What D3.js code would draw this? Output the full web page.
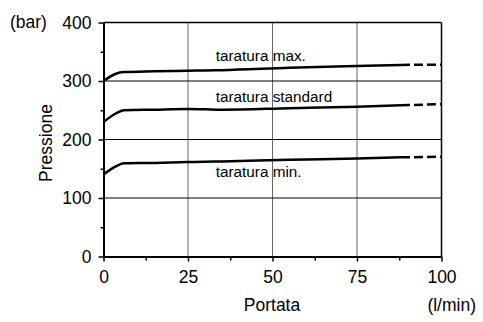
<!DOCTYPE html>
<html><head><meta charset="utf-8">
<script src="https://cdn.jsdelivr.net/npm/d3@7"></script>
<style>
body{margin:0;background:#fff;}
svg{display:block;font-family:"Liberation Sans",Arial,Helvetica,sans-serif;}
</style></head>
<body>
<svg id="c" width="483" height="322"></svg>
<script>
// ---- data ----
const flowSolid = [0, 3.5, 6, 15, 25, 30, 35, 55, 75, 88];
const pMax      = [300, 312, 315.2, 316.5, 317.5, 318, 318.5, 322.5, 325.5, 327.5];
const pStd      = [230, 244, 250, 251, 252, 251.5, 251, 253.5, 256, 258.5];
const pMin      = [140, 153.5, 159.3, 160, 161.5, 162, 162.5, 165.5, 167.5, 169.5];
const flowDash  = [88, 100];
const pMaxDash  = [327.5, 328];
const pStdDash  = [258.5, 260.5];
const pMinDash  = [169.5, 170.5];
const xTicks = [0, 25, 50, 75, 100];
const xMinor = [12.5, 37.5, 62.5, 87.5];
const yTicks = [0, 100, 200, 300, 400];
const yMinor = [50, 150, 250, 350];
const labels = ["taratura max.", "taratura standard", "taratura min."];
const labelPos = [[33.2, 334], [33.2, 264], [33.2, 136]]; // data coords (flow, pressure) for label anchor
const yTitle = "Pressione", xTitle = "Portata", yUnit = "(bar)", xUnit = "(l/min)";

// ---- chart ----
const svg = d3.select("#c");
const x = d3.scaleLinear().domain([0,100]).range([103.5,441.5]);
const y = d3.scaleLinear().domain([0,400]).range([256.5,22.5]);
const FS = 17.5;

// grid
svg.append("g").selectAll("line").data([25,50,75]).join("line")
  .attr("x1",d=>x(d)).attr("x2",d=>x(d)).attr("y1",y(0)).attr("y2",y(400))
  .attr("stroke","#666").attr("stroke-width",1);
svg.append("g").selectAll("line").data([100,200,300]).join("line")
  .attr("x1",x(0)).attr("x2",x(100)).attr("y1",d=>y(d)).attr("y2",d=>y(d))
  .attr("stroke","#000").attr("stroke-width",1);

// frame top/right
svg.append("line").attr("x1",x(0)).attr("x2",x(100)).attr("y1",y(400)).attr("y2",y(400))
  .attr("stroke","#000").attr("stroke-width",1.5);
svg.append("line").attr("x1",x(100)).attr("x2",x(100)).attr("y1",y(400)).attr("y2",y(0))
  .attr("stroke","#000").attr("stroke-width",1.5);

// axes
const ax = svg.append("g").attr("transform",`translate(0,${y(0)})`)
  .call(d3.axisBottom(x).tickValues(xTicks).tickSize(5).tickPadding(9).tickSizeOuter(0));
const axm = svg.append("g").attr("transform",`translate(0,${y(0)})`)
  .call(d3.axisBottom(x).tickValues(xMinor).tickSize(4).tickFormat("").tickSizeOuter(0));
const ay = svg.append("g").attr("transform",`translate(${x(0)},0)`)
  .call(d3.axisLeft(y).tickValues(yTicks).tickSize(5).tickPadding(7).tickSizeOuter(0));
const aym = svg.append("g").attr("transform",`translate(${x(0)},0)`)
  .call(d3.axisLeft(y).tickValues(yMinor).tickSize(3).tickFormat("").tickSizeOuter(0));
[ax,axm,ay,aym].forEach(g=>{
  g.selectAll(".domain").attr("stroke","#000").attr("stroke-width",2);
  g.selectAll(".tick line").attr("stroke","#000").attr("stroke-width",1.5);
  g.selectAll("text").attr("font-size",FS).attr("font-family","Liberation Sans, Arial, sans-serif").attr("fill","#000");
});
axm.select(".domain").remove(); aym.select(".domain").remove();

// curves
const line = d3.line().x(d=>x(d[0])).y(d=>y(d[1])).curve(d3.curveMonotoneX);
[pMax,pStd,pMin].forEach(s=>{
  svg.append("path").attr("d",line(flowSolid.map((f,i)=>[f,s[i]])))
    .attr("fill","none").attr("stroke","#000").attr("stroke-width",2.5);
});
[pMaxDash,pStdDash,pMinDash].forEach(s=>{
  svg.append("path").attr("d",line(flowDash.map((f,i)=>[f,s[i]])))
    .attr("fill","none").attr("stroke","#000").attr("stroke-width",2.5)
    .attr("stroke-dasharray","9,4");
});

// curve labels
labels.forEach((t,i)=>{
  svg.append("text").attr("x",x(labelPos[i][0])).attr("y",y(labelPos[i][1]))
    .attr("font-size",15.3).attr("fill","#000").text(t);
});

// titles
svg.append("text").attr("transform",`translate(52,143) rotate(-90)`)
  .attr("text-anchor","middle").attr("font-size",FS).text(yTitle);
svg.append("text").attr("x",272).attr("y",311).attr("text-anchor","middle").attr("font-size",FS).text(xTitle);
svg.append("text").attr("x",476).attr("y",311).attr("text-anchor","end").attr("font-size",FS).text(xUnit);
svg.append("text").attr("x",10).attr("y",28).attr("font-size",FS).text(yUnit);
</script>
</body></html>
